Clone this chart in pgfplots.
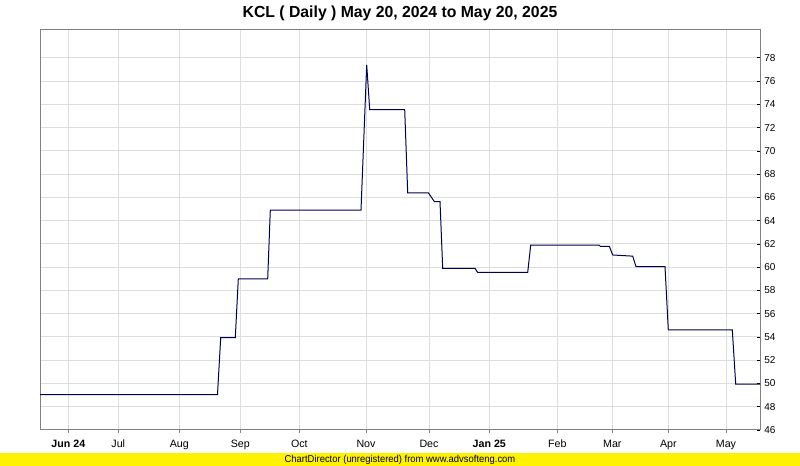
\documentclass[border=0pt]{standalone}
\usepackage{fontspec}
\setmainfont{Liberation Sans}
\usepackage{graphicx}
\usepackage{pgfplots}
\pgfplotsset{compat=1.18}
\definecolor{navy}{RGB}{0,0,80}
\definecolor{gridc}{RGB}{221,221,221}
\definecolor{axisc}{RGB}{128,128,128}
\begin{document}
\begin{tikzpicture}
\path[use as bounding box] (0,0) rectangle (600pt,349.5pt);
\fill[yellow] (0,0) rectangle (600pt,9.75pt);
\node[inner sep=0pt] at (300pt,4.3pt) {\resizebox{173pt}{\height}{\fontsize{7.5pt}{8pt}\selectfont ChartDirector (unregistered) from www.advsofteng.com}};
\node[inner sep=0pt] at (300pt,339.5pt) {\resizebox{236pt}{\height}{\fontsize{12pt}{14pt}\selectfont\bfseries KCL ( Daily ) May 20, 2024 to May 20, 2025}};
\begin{axis}[
  at={(30pt,27pt)}, anchor=south west,
  width=540pt, height=300pt, scale only axis,
  xmin=40, xmax=760, ymin=46, ymax=80.4,
  xtick={68.3,118.3,179.3,240.3,299.3,366,429,489.3,557.3,612.3,668.3,726},
  xticklabels={\textbf{Jun 24},Jul,Aug,Sep,Oct,Nov,Dec,\textbf{Jan 25},Feb,Mar,Apr,May},
  ytick={46,48,...,78},
  yticklabels={46,48,50,52,54,56,58,60,62,64,66,68,70,72,74,76,78},
  xtick pos=bottom, ytick pos=right, yticklabel pos=right,
  tick align=outside, major tick length=2.25pt,
  y tick style={xshift=-2.25pt, draw=black, line width=0.6pt},
  x tick style={draw=axisc, line width=0.6pt},
  xticklabel style={font=\fontsize{8pt}{9pt}\selectfont, inner sep=0pt, yshift=-5pt},
  yticklabel style={font=\fontsize{7.5pt}{9pt}\selectfont, inner sep=0pt, xshift=0.8pt},
  grid=major, major grid style={draw=gridc, line width=0.75pt},
  axis line style={draw=axisc, line width=0.75pt},
  clip=true,
]
\addplot[navy, line width=0.75pt] coordinates {
(40,49.05) (217.5,49.05) (220.7,53.95) (235.3,53.95) (238.3,59.0) (267.7,59.0)
(270.3,64.9) (361,64.9) (366.7,77.4) (369.7,73.55) (404.7,73.55) (407.7,66.4)
(428.3,66.4) (434.3,65.65) (440,65.65) (442.7,59.9) (475,59.9) (477.7,59.55)
(527.7,59.55) (530.7,61.9) (599,61.9) (600.3,61.8) (609.3,61.8) (612.7,61.05)
(622.7,61.0) (632.7,60.95) (636,60.05) (665,60.05) (668.3,54.6) (732.3,54.6)
(735.7,49.95) (760,49.95)
};
\end{axis}
\end{tikzpicture}
\end{document}
